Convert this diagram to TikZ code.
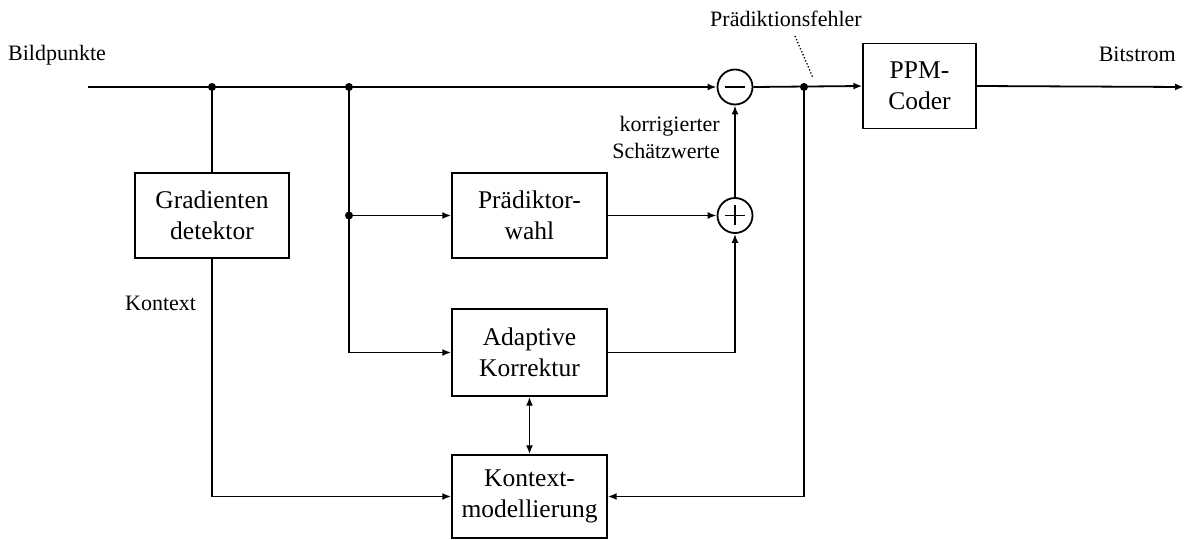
\documentclass[tikz,border=0pt]{standalone}
\usepackage{fontspec}
\setmainfont{Liberation Serif}
\usetikzlibrary{arrows.meta}
\begin{document}
\begin{tikzpicture}[x=1pt,y=-1pt,
  blk/.style={draw,line width=1.4pt,inner sep=0pt,align=center,
    font=\fontsize{25.5}{31}\selectfont},
  sumc/.style={draw,circle,line width=1.8pt,minimum size=35pt,inner sep=0pt},
  conn/.style={line width=1.8pt},
  arr/.style={conn,-{Latex[length=9pt,width=7pt]}},
  darr/.style={conn,{Latex[length=9pt,width=7pt]}-{Latex[length=9pt,width=7pt]}},
  lbl/.style={font=\fontsize{22}{27}\selectfont,inner sep=0pt},
  junc/.style={circle,fill,inner sep=0pt,minimum size=8pt}]
\useasboundingbox (0,0) rectangle (1184,540);
% blocks
\node[blk,minimum width=154pt,minimum height=85pt] (grad) at (212,215.5) {Gradienten\\detektor};
\node[blk,minimum width=155pt,minimum height=85pt] (praed) at (529.5,215.5) {Prädiktor-\\wahl};
\node[blk,minimum width=155pt,minimum height=87pt] (adapt) at (529.5,352.5) {Adaptive\\Korrektur};
\node[blk,minimum width=155pt,minimum height=83pt] (kmod) at (529.5,496.5) {Kontext-\\modellierung};
\node[blk,minimum width=113pt,minimum height=85pt] (ppm) at (919.5,86) {PPM-\\Coder};
% summation circles
\node[sumc] (minus) at (735,87) {};
\node[sumc] (plus) at (735,215.5) {};
\draw[conn] ([xshift=-10pt]minus.center) -- ([xshift=10pt]minus.center);
\draw[conn] ([xshift=-10pt]plus.center) -- ([xshift=10pt]plus.center);
\draw[conn] ([yshift=-10pt]plus.center) -- ([yshift=10pt]plus.center);
% coordinates and junctions
\coordinate (in) at (88,87);
\coordinate (out) at (1184,87);
\node[junc] (j1) at (212,87) {};
\node[junc] (j2) at (349,87) {};
\node[junc] (j3) at (349,215.5) {};
\node[junc] (j4) at (804,87) {};
% connectors
\draw[arr] (in) -- (minus.west);
\draw[conn] (j1.center) -- (grad.north);
\draw[arr] (grad.south) |- (kmod.west);
\draw[arr] (j2.center) |- (adapt.west);
\draw[arr] (j3.center) -- (praed.west);
\draw[arr] (praed.east) -- (plus.west);
\draw[arr] (adapt.east) -| (plus.south);
\draw[arr] (plus.north) -- (minus.south);
\draw[arr] (minus.east) -- (ppm.west);
\draw[arr] (j4.center) |- (kmod.east);
\draw[darr] (adapt.south) -- (kmod.north);
\draw[arr] (ppm.east) -- (out);
% labels
\node[lbl,anchor=base west] (lbild) at (8,61) {Bildpunkte};
\node[lbl,anchor=base east] (lbit) at (1176,62) {Bitstrom};
\node[lbl,anchor=base] (lpf) at (786,27) {Prädiktionsfehler};
\node[lbl,anchor=base west] (lkon) at (125,310) {Kontext};
\node[lbl,anchor=north east,align=right] (lkor) at (720,116) {korrigierter\\Schätzwerte};
\coordinate (pfa) at (795,36);
\coordinate (pfb) at (813,78);
\draw[line width=1.3pt,dotted] (pfa) -- (pfb);
\end{tikzpicture}
\end{document}
